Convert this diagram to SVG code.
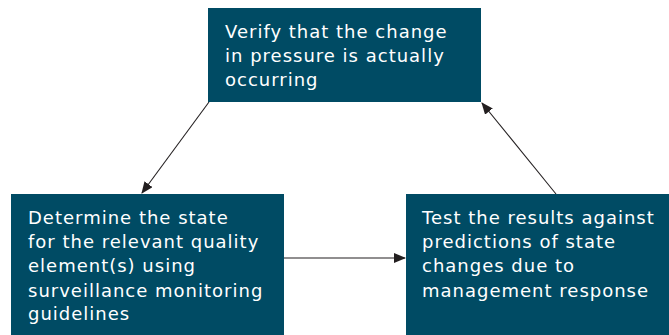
<svg xmlns="http://www.w3.org/2000/svg" width="669" height="335" viewBox="0 0 669 335">
<style>
.box{fill:#004b64}
.t{font-family:"DejaVu Sans",sans-serif;font-size:18px;letter-spacing:1px;fill:#ffffff}
.c{stroke:#231f20;stroke-width:1.1;fill:none}
</style>
<defs>
<marker id="ah" markerWidth="12" markerHeight="10" refX="11" refY="5" orient="auto" markerUnits="userSpaceOnUse">
<path d="M0,0 L12,5 L0,10 Z" fill="#231f20"/>
</marker>
</defs>
<rect width="669" height="335" fill="#ffffff"/>
<g id="connectors">
<line class="c" x1="209" y1="102" x2="142" y2="193" marker-end="url(#ah)"/>
<line class="c" x1="284" y1="258" x2="405" y2="258" marker-end="url(#ah)"/>
<line class="c" x1="556" y1="194" x2="482" y2="103" marker-end="url(#ah)"/>
</g>
<g id="node-verify">
<rect class="box" x="208" y="8" width="273" height="94"/>
<text class="t"><tspan x="225" y="38">Verify that the change</tspan><tspan x="225" y="62">in pressure is actually</tspan><tspan x="225" y="86">occurring</tspan></text>
</g>
<g id="node-determine">
<rect class="box" x="11" y="194" width="273" height="141"/>
<text class="t"><tspan x="28" y="224">Determine the state</tspan><tspan x="28" y="248">for the relevant quality</tspan><tspan x="28" y="272">element(s) using</tspan><tspan x="28" y="297">surveillance monitoring</tspan><tspan x="28" y="320">guidelines</tspan></text>
</g>
<g id="node-test">
<rect class="box" x="406" y="194" width="263" height="141"/>
<text class="t"><tspan x="422" y="224">Test the results against</tspan><tspan x="422" y="248">predictions of state</tspan><tspan x="422" y="272">changes due to</tspan><tspan x="422" y="297">management response</tspan></text>
</g>
</svg>
